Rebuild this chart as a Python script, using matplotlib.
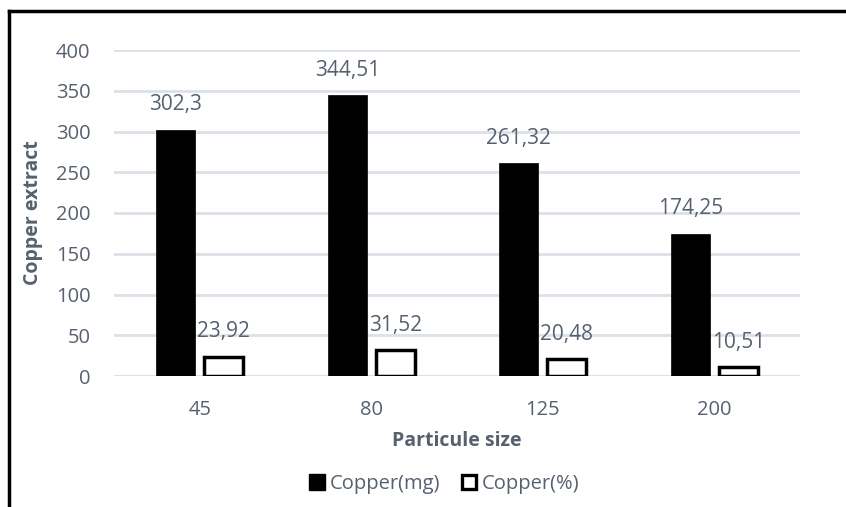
import matplotlib.pyplot as plt
import numpy as np
from matplotlib.lines import Line2D

# -------------------- DATA --------------------
particle_sizes = ["45", "80", "125", "200"]
copper_mg = [302.3, 344.51, 261.32, 174.25]
copper_pct = [23.92, 31.52, 20.48, 10.51]
y_ticks = [0, 50, 100, 150, 200, 250, 300, 350, 400]
# ----------------------------------------------

TEXT = "#56606F"
GRID = "#DCE0E8"
FONT = "Open Sans"

plt.rcParams["font.family"] = [FONT, "DejaVu Sans"]

fig = plt.figure(figsize=(8.46, 5.07), dpi=100)
W, H = 846, 507
ax = fig.add_axes([114 / W, 1 - 376 / H, (800 - 114) / W, (376 - 50) / H])

x = np.arange(len(particle_sizes))
width = 0.23
shift = 0.14
ax.bar(x - shift, copper_mg, width, color="black", edgecolor="black", linewidth=0.5, zorder=3)
ax.bar(x + shift, copper_pct, width, color="white", edgecolor="black", linewidth=2.5, zorder=3)

def fmt(v):
    return f"{v:g}".replace(".", ",")

# value labels sit about 25 px above each bar
for xs, vals in [(x - shift, copper_mg), (x + shift, copper_pct)]:
    for xi, v in zip(xs, vals):
        ax.annotate(fmt(v), (xi, v), xytext=(0, 18), textcoords="offset points",
                    ha="center", va="center", fontsize=15, color=TEXT)

ax.set_xlim(-0.5, len(particle_sizes) - 0.5)
ax.set_ylim(0, 400)
ax.set_yticks(y_ticks)
ax.set_xticks(x)
ax.set_xticklabels(particle_sizes)
ax.tick_params(axis="both", length=0, labelsize=14.5, labelcolor=TEXT)
ax.tick_params(axis="y", pad=17)
ax.tick_params(axis="x", pad=17)
ax.grid(axis="y", color=GRID, linewidth=2, zorder=0)
for side in ["top", "right", "left", "bottom"]:
    ax.spines[side].set_visible(False)
ax.axhline(0, color=GRID, linewidth=2, zorder=2)

ax.set_xlabel("Particule size", fontsize=14, fontweight="bold", color=TEXT, va="center")
ax.xaxis.set_label_coords(0.5, -(441 - 376) / 326)
ax.set_ylabel("Copper extract", fontsize=14, fontweight="bold", color=TEXT, va="center")
ax.yaxis.set_label_coords((33 - 114) / 686, 0.5)

handles = [
    Line2D([], [], marker="s", linestyle="none", markersize=11, markerfacecolor="black", markeredgecolor="black"),
    Line2D([], [], marker="s", linestyle="none", markersize=10, markerfacecolor="white",
           markeredgecolor="black", markeredgewidth=2.4),
]
fig.legend(handles, ["Copper(mg)", "Copper(%)"], loc="center", bbox_to_anchor=(444 / W, 1 - 484 / H),
           ncol=2, frameon=False, fontsize=14.5, labelcolor=TEXT, handletextpad=0.25, columnspacing=1.0,
           handlelength=0.8, borderaxespad=0)

# frame lines along the top and left edges
fig.add_artist(Line2D([9 / W, 9 / W], [0, 1 - 11 / H], color="black", linewidth=2.5, transform=fig.transFigure))
fig.add_artist(Line2D([9 / W, 1], [1 - 11 / H, 1 - 11 / H], color="black", linewidth=2.5, transform=fig.transFigure))

fig.savefig("out.png", dpi=100, facecolor="white")
